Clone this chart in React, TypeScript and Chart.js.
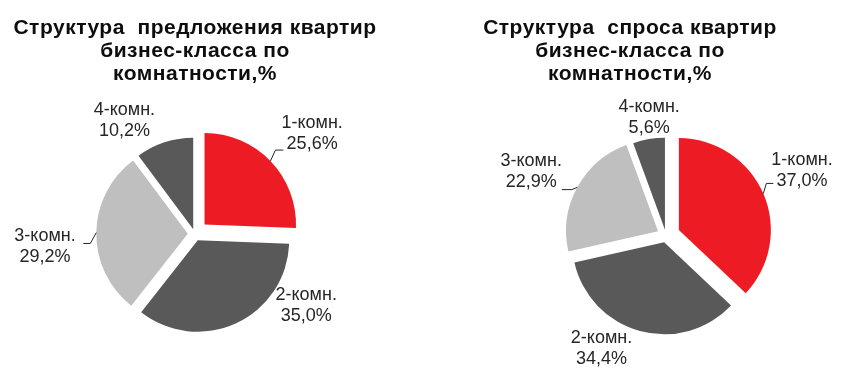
import React, { useEffect, useRef } from 'react';
import { Chart, registerables } from 'chart.js';

Chart.register(...registerables);

// ---------- data ----------
const categories = ['1-комн.', '2-комн.', '3-комн.', '4-комн.'];
const supplyValues = [25.6, 35.0, 29.2, 10.2];
const demandValues = [37.0, 34.4, 22.9, 5.6];
const supplyTitle = ['Структура  предложения квартир', 'бизнес-класса по', 'комнатности,%'];
const demandTitle = ['Структура  спроса квартир', 'бизнес-класса по', 'комнатности,%'];

// ---------- styles ----------
const sliceColors = ['#ED1C24', '#595959', '#BFBFBF', '#595959'];
const FONT = '"Liberation Sans", Arial, sans-serif';
const supplyExplode = [13.5, 7, 7, 5];
const demandExplode = [14, 7, 9, 6];

type Place = { dx: number; dy: number; leader?: [number, number, number] };

// label centre relative to the slice's outer mid-point; leader = [endDx, endDy, elbowLen] from label centre
const supplyPlace: Place[] = [
  { dx: 41.7, dy: -28, leader: [-28.7, 17, -8] },
  { dx: 70, dy: -18 },
  { dx: -51.3, dy: 14, leader: [38.3, -3.2, 7] },
  { dx: -40, dy: -22 },
];
const demandPlace: Place[] = [
  { dx: 38.7, dy: -23.5, leader: [-28.7, 13.3, -7] },
  { dx: -38.3, dy: 17.5 },
  { dx: -46.1, dy: -15.7, leader: [30.7, 18, 10] },
  { dx: 0.3, dy: -21.7 },
];

const fmt = (v: number) => v.toFixed(1).replace('.', ',') + '%';

function sliceGeom(arc: any, explode: number) {
  const { x, y, startAngle, endAngle, outerRadius } = arc.getProps(
    ['x', 'y', 'startAngle', 'endAngle', 'outerRadius'],
    true
  );
  const mid = (startAngle + endAngle) / 2;
  const tx = Math.cos(mid) * explode;
  const ty = Math.sin(mid) * explode;
  return {
    tx,
    ty,
    px: x + tx + Math.cos(mid) * outerRadius,
    py: y + ty + Math.sin(mid) * outerRadius,
  };
}

// pulls every slice outward along its mid-angle, then lets the ArcElement draw itself
const explodePlugin = {
  id: 'explodeSlices',
  beforeDatasetDraw(chart: any, args: any, opts: any) {
    const ctx = chart.ctx as CanvasRenderingContext2D;
    const explode: number[] = opts.explode;
    args.meta.data.forEach((arc: any, i: number) => {
      const g = sliceGeom(arc, explode[i]);
      ctx.save();
      ctx.translate(g.tx, g.ty);
      arc.draw(ctx);
      ctx.restore();
    });
    return false;
  },
};

const labelPlugin = {
  id: 'pieLabels',
  afterDatasetsDraw(chart: any, _args: any, opts: any) {
    const ctx = chart.ctx as CanvasRenderingContext2D;
    const meta = chart.getDatasetMeta(0);
    const data = chart.data.datasets[0].data as number[];
    const labels = chart.data.labels as string[];
    const place: Place[] = opts.place;
    const explode: number[] = opts.explode;
    const lh = 21;
    ctx.save();
    ctx.font = `18px ${FONT}`;
    ctx.fillStyle = '#262626';
    ctx.textAlign = 'center';
    ctx.textBaseline = 'middle';
    ctx.strokeStyle = '#262626';
    ctx.lineWidth = 1;
    meta.data.forEach((arc: any, i: number) => {
      const { px, py } = sliceGeom(arc, explode[i]);
      const p = place[i];
      const lx = px + p.dx;
      const ly = py + p.dy;
      const lines = [labels[i], fmt(data[i])];
      lines.forEach((t, k) => {
        ctx.fillText(t, lx, ly + (k - (lines.length - 1) / 2) * lh);
      });
      if (p.leader) {
        const ex = lx + p.leader[0];
        const ey = ly + p.leader[1];
        const bx = ex + p.leader[2];
        ctx.beginPath();
        ctx.moveTo(ex, ey);
        ctx.lineTo(bx, ey);
        ctx.lineTo(px, py);
        ctx.stroke();
      }
    });
    ctx.restore();
  },
};

type PieProps = {
  values: number[];
  place: Place[];
  explode: number[];
  radius: number;
  width: number;
  padding: { left: number; right: number; top: number; bottom: number };
};

function Pie({ values, place, explode, radius, width, padding }: PieProps) {
  const ref = useRef<HTMLCanvasElement>(null);
  useEffect(() => {
    if (!ref.current) return;
    const chart = new Chart(ref.current, {
      type: 'pie',
      data: {
        labels: categories,
        datasets: [
          {
            data: values,
            backgroundColor: sliceColors,
            borderWidth: 0,
            radius,
            clip: false,
          } as any,
        ],
      },
      options: {
        animation: false,
        responsive: false,
        maintainAspectRatio: false,
        events: [],
        layout: { padding },
        plugins: {
          legend: { display: false },
          tooltip: { enabled: false },
          title: { display: false },
          explodeSlices: { explode },
          pieLabels: { place, explode },
        } as any,
      },
      plugins: [explodePlugin, labelPlugin],
    });
    return () => chart.destroy();
  }, []);
  return (
    <canvas
      ref={ref}
      width={width}
      height={391}
      style={{ display: 'block', width, height: 391 }}
    />
  );
}

function Title({ lines, center }: { lines: string[]; center: number }) {
  return (
    <div
      style={{
        position: 'absolute',
        left: center - 220,
        width: 440,
        top: 15,
        textAlign: 'center',
        font: `bold 21px ${FONT}`,
        letterSpacing: '0.5px',
        lineHeight: '23px',
        color: '#0D0D0D',
        whiteSpace: 'pre',
      }}
    >
      {lines.map((l, i) => (
        <div key={i}>{l}</div>
      ))}
    </div>
  );
}

export default function App() {
  return (
    <div
      style={{
        position: 'absolute',
        left: 0,
        top: 0,
        width: 851,
        height: 391,
        background: '#fff',
        overflow: 'hidden',
      }}
    >
      <div style={{ position: 'absolute', left: 0, top: 0 }}>
        <Pie
          values={supplyValues}
          place={supplyPlace}
          explode={supplyExplode}
          radius={91.5}
          width={425}
          padding={{ left: 0, right: 35.4, top: 76.8, bottom: 0 }}
        />
      </div>
      <div style={{ position: 'absolute', left: 425, top: 0 }}>
        <Pie
          values={demandValues}
          place={demandPlace}
          explode={demandExplode}
          radius={92}
          width={426}
          padding={{ left: 56, right: 0, top: 80.2, bottom: 0 }}
        />
      </div>
      <Title lines={supplyTitle} center={195} />
      <Title lines={demandTitle} center={630} />
    </div>
  );
}
